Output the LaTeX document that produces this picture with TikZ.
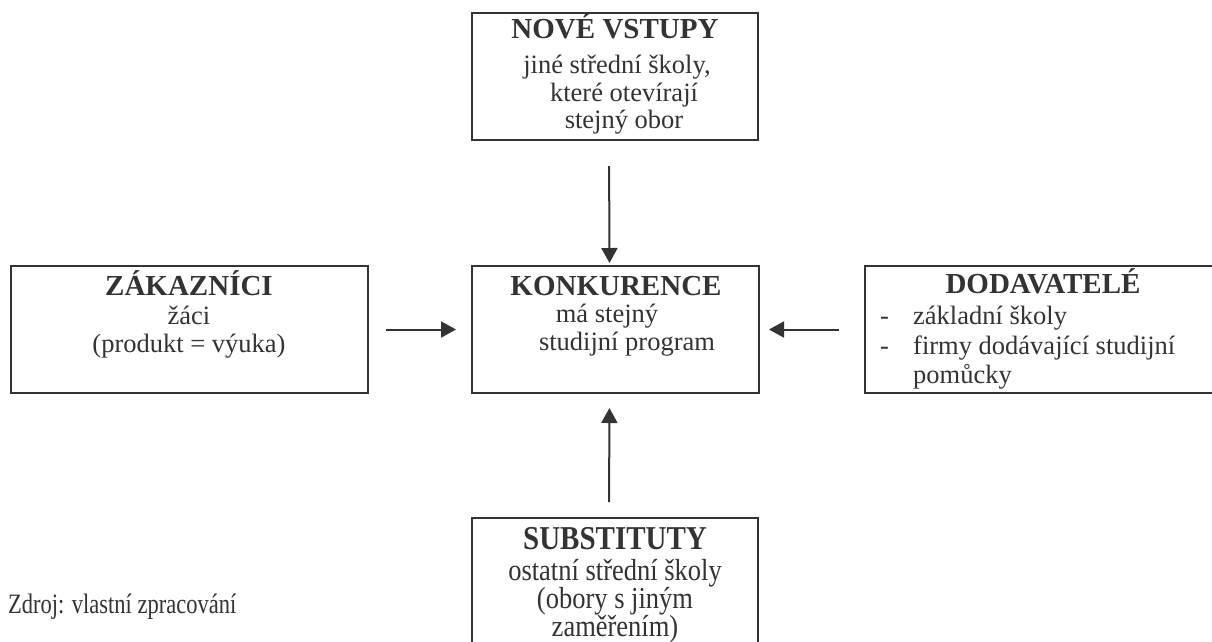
\documentclass[tikz,border=0pt]{standalone}
\usepackage{fontspec}
\setmainfont{Liberation Serif}
\usepackage{graphicx}
\usetikzlibrary{arrows.meta}
\definecolor{ink}{HTML}{333333}
\tikzset{
  box/.style={draw=ink, line width=2pt, inner sep=0pt, anchor=center},
  flow/.style={draw=ink, line width=2pt, -{Triangle[length=15pt,width=16pt]}},
  head/.style={anchor=base, inner sep=0pt, text=ink, font=\fontsize{29}{33}\selectfont\bfseries},
  body/.style={anchor=base, inner sep=0pt, text=ink, font=\fontsize{26.5}{30}\selectfont},
  bodyw/.style={anchor=base west, inner sep=0pt, text=ink, font=\fontsize{26.5}{30}\selectfont},
  note/.style={anchor=base west, inner sep=0pt, text=ink, font=\fontsize{22.5}{26}\selectfont},
}
\newcommand{\tall}[1]{\scalebox{1}[1.15]{#1}}
\begin{document}
\begin{tikzpicture}[x=1pt,y=-1pt]
\clip (0,0) rectangle (1212,641);
\fill[white] (0,0) rectangle (1212,641);

% the five forces boxes
\node[box, minimum width=286pt, minimum height=127pt] (nv) at (615,76.5) {};
\node[box, minimum width=357pt, minimum height=127pt] (zak) at (189.5,329.5) {};
\node[box, minimum width=287pt, minimum height=127pt] (kon) at (615.5,329.5) {};
\node[box, minimum width=351pt, minimum height=127pt] (dod) at (1040.5,329.5) {};
\node[box, minimum width=286pt, minimum height=142pt] (sub) at (615,589) {};

% new entrants
\node[head] (nv1) at (615,38) {NOVÉ VSTUPY};
\node[body] (nv2) at (617,73) {jiné střední školy,};
\node[body] (nv3) at (624,101) {které otevírají};
\node[body] (nv4) at (624,128) {stejný obor};

% customers
\node[head] (zak1) at (189,295) {ZÁKAZNÍCI};
\node[body] (zak2) at (189,324) {žáci};
\node[body] (zak3) at (189,352) {(produkt = výuka)};

% competition
\node[head] (kon1) at (616,295) {KONKURENCE};
\node[body] (kon2) at (607,322) {má stejný};
\node[body] (kon3) at (627,350) {studijní program};

% suppliers
\node[head] (dod1) at (1043,293) {DODAVATELÉ};
\node[bodyw] (dod2a) at (880,324) {-};
\node[bodyw] (dod2) at (913,324) {základní školy};
\node[bodyw] (dod3a) at (880,354) {-};
\node[bodyw] (dod3) at (913,354) {firmy dodávající studijní};
\node[bodyw] (dod4) at (913,383) {pomůcky};

% substitutes
\node[head] (sub1) at (615,549) {\tall{SUBSTITUTY}};
\node[body] (sub2) at (615,580) {\tall{ostatní střední školy}};
\node[body] (sub3) at (615,608) {\tall{(obory s jiným}};
\node[body] (sub4) at (615,636) {\tall{zaměřením)}};

% source note
\node[note] (src) at (8,613) {\scalebox{1}[1.25]{Zdroj: vlastní zpracování}};

% forces acting on the competition
\draw[flow, shorten <=25pt, shorten >=2pt] ([xshift=-6pt]nv.south) -- ([xshift=-6pt]kon.north);
\draw[flow, shorten <=17pt, shorten >=15pt] (zak.east) -- (kon.west);
\draw[flow, shorten <=25pt, shorten >=9pt] (dod.west) -- (kon.east);
\draw[flow, shorten <=15pt, shorten >=14pt] ([xshift=-6pt]sub.north) -- ([xshift=-6pt]kon.south);
\end{tikzpicture}
\end{document}
